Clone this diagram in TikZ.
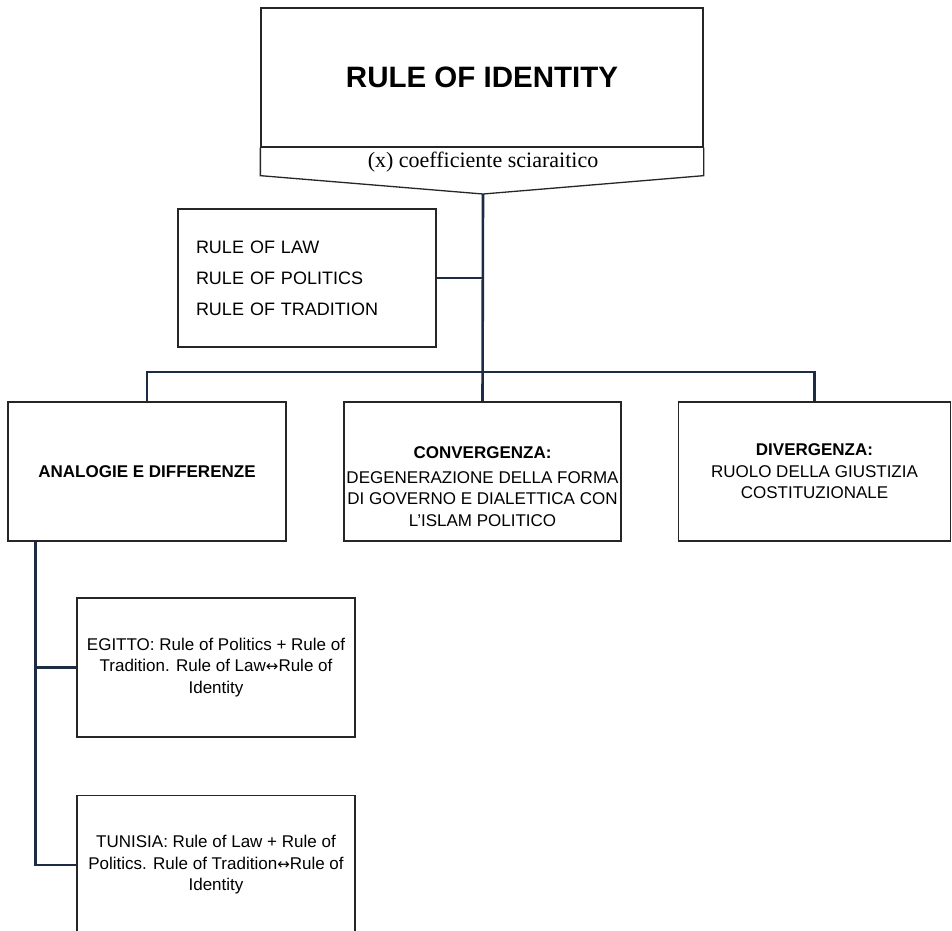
\documentclass[tikz,border=0pt]{standalone}
\usepackage{fontspec}
\setmainfont{Liberation Sans}
\newfontfamily\coeffont{Liberation Serif}
\newfontfamily\arrowfont{DejaVu Sans}
\usetikzlibrary{positioning}
\definecolor{linkblue}{HTML}{1E2B45}
\definecolor{boxline}{HTML}{262626}
\newcommand{\lrarrow}{{\arrowfont\fontsize{15}{15}\selectfont ↔}}
\tikzset{
  box/.style={draw=boxline,line width=1.3pt,rectangle,minimum width=278pt,
    minimum height=139pt,inner sep=1pt,align=center,
    font=\fontsize{17}{21.5}\selectfont},
  link/.style={draw=linkblue,line width=2.6pt}
}

\begin{document}
\begin{tikzpicture}[x=1pt,y=-1pt]
\path[use as bounding box,fill=white] (0,0) rectangle (952,930);
% title block with its banner
\node[box,minimum width=442pt,minimum height=139pt,
  font=\bfseries\fontsize{29.5}{34}\selectfont] (identity) at (482,77.5) {RULE OF IDENTITY};
\coordinate (tip) at (483,194);
\draw[boxline,line width=1.3pt] (identity.south west) -- ++(0,28) coordinate (bl)
  -- (tip) -- (identity.south east |- bl) -- (identity.south east);
\node[font=\coeffont\fontsize{22}{24}\selectfont] (coef) at (483,162) {(x) coefficiente sciaraitico};

\node[box,minimum width=258pt,minimum height=138pt,text width=222pt,align=left,
  inner xsep=18pt,font=\fontsize{18}{31}\selectfont] (rules) at (307,278)
  {RULE OF LAW\\RULE OF POLITICS\\RULE OF TRADITION};

% second row
\node[box] (analog) at (147,471.5) {\bfseries ANALOGIE E DIFFERENZE};
\node[box,minimum width=277pt] (conv) at (482.5,471.5) {};
\node[align=center,font=\fontsize{17}{21.5}\selectfont] (convtext) at ([yshift=-15pt]conv.center)
  {\bfseries CONVERGENZA:\\[3pt]DEGENERAZIONE DELLA FORMA\\DI GOVERNO E DIALETTICA CON\\L’ISLAM POLITICO};
\node[box,minimum width=272pt] (div) at (814.5,471.5)
  {\bfseries DIVERGENZA:\\RUOLO DELLA GIUSTIZIA\\COSTITUZIONALE};

% countries
\node[box] (egitto) at (216,667.5)
  {EGITTO: Rule of Politics + Rule of\\Tradition. Rule of Law\lrarrow Rule of\\Identity};
\node[box] (tunisia) at (216,865)
  {TUNISIA: Rule of Law + Rule of\\Politics. Rule of Tradition\lrarrow Rule of\\Identity};

\coordinate (bar) at (tip |- 0,372);
\draw[link] (tip) -- (conv.north);
\draw[link] (analog.north) |- (bar) -| (div.north);
\draw[link] (rules.east) -- (rules.east -| tip);
\coordinate (trunk) at ([xshift=28pt]analog.south west);
\draw[link] (trunk) |- (egitto.west);
\draw[link] (trunk) |- (tunisia.west);
\end{tikzpicture}
\end{document}
